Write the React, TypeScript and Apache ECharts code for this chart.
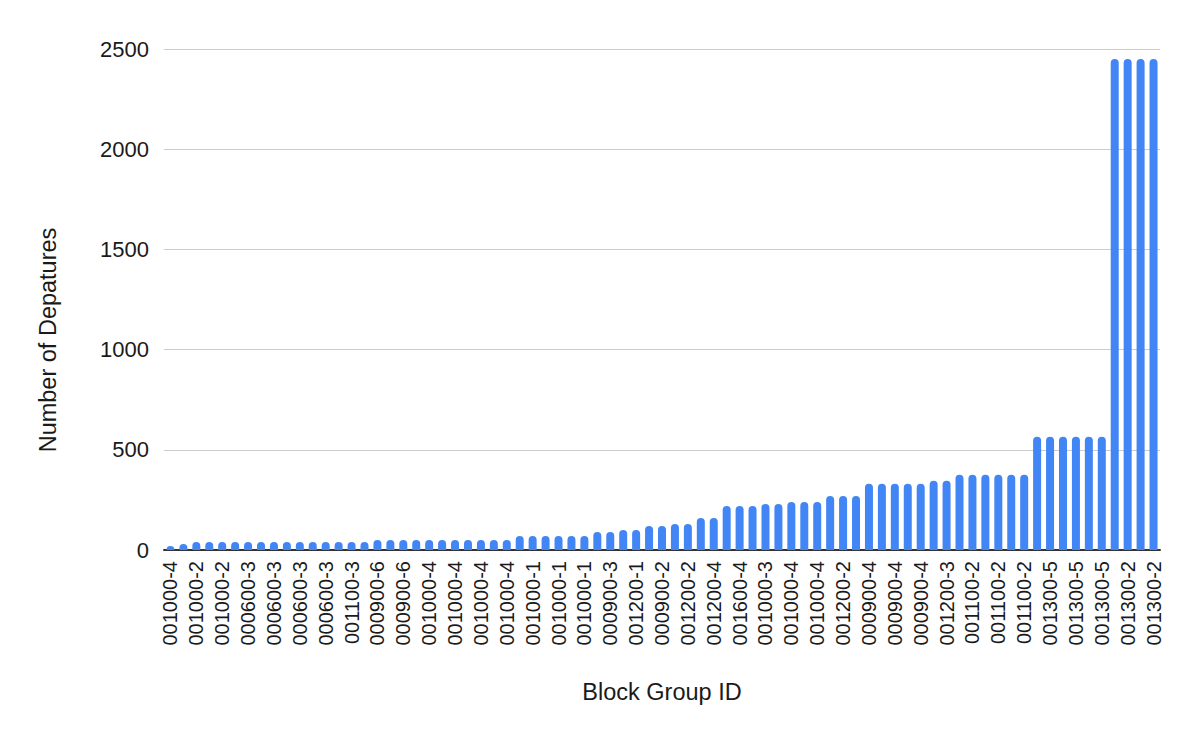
import React, { useEffect, useRef } from 'react';
import * as echarts from 'echarts';

// block group ids, one per bar (only every other one is drawn on the axis)
const blockGroups = [
  '001000-4', '001000-4', '001000-2', '001000-2', '001000-2', '001000-2',
  '000600-3', '000600-3', '000600-3', '000600-3', '000600-3', '000600-3',
  '000600-3', '000600-3', '001100-3', '001100-3', '000900-6', '000900-6',
  '000900-6', '000900-6', '001000-4', '001000-4', '001000-4', '001000-4',
  '001000-4', '001000-4', '001000-4', '001000-1', '001000-1', '001000-1',
  '001000-1', '001000-1', '001000-1', '000900-3', '000900-3', '001200-1',
  '001200-1', '000900-2', '000900-2', '001200-2', '001200-2', '001200-4',
  '001200-4', '001600-4', '001600-4', '001000-3', '001000-3', '001000-4',
  '001000-4', '001000-4', '001000-4', '001200-2', '001200-2', '000900-4',
  '000900-4', '000900-4', '000900-4', '000900-4', '000900-4', '001200-3',
  '001200-3', '001100-2', '001100-2', '001100-2', '001100-2', '001100-2',
  '001100-2', '001300-5', '001300-5', '001300-5', '001300-5', '001300-5',
  '001300-5', '001300-2', '001300-2', '001300-2', '001300-2',
];

// number of departures per bar
const departures = [
  20, 30, 40, 40, 40, 40, 40, 40, 40, 40, 40, 40,
  40, 40, 40, 40, 50, 50, 50, 50, 50, 50, 50, 50,
  50, 50, 50, 70, 70, 70, 70, 70, 70, 90, 90, 100,
  100, 120, 120, 130, 130, 160, 160, 220, 220, 220, 230, 230,
  240, 240, 240, 270, 270, 270, 330, 330, 330, 330, 330, 345,
  345, 375, 375, 375, 375, 375, 375, 565, 565, 565, 565, 565,
  565, 2450, 2450, 2450, 2450,
];

const FONT = "'Liberation Sans', Arial, Helvetica, sans-serif";
const TEXT = '#1a1a1a';

export default function App() {
  const chartRef = useRef<HTMLDivElement>(null);

  useEffect(() => {
    if (!chartRef.current) return;
    const chart = echarts.init(chartRef.current, undefined, { renderer: 'svg' });

    const option = {
      animation: false,
      backgroundColor: '#ffffff',
      grid: { left: 164, right: 40, top: 49, bottom: 192 },
      xAxis: {
        type: 'category',
        data: blockGroups,
        boundaryGap: true,
        axisLine: { show: true, lineStyle: { color: '#333333', width: 2 } },
        axisTick: { show: false },
        axisLabel: {
          interval: 1,
          rotate: 90,
          margin: 11,
          color: TEXT,
          fontSize: 20,
          fontFamily: FONT,
        },
        splitLine: { show: false },
      },
      yAxis: {
        type: 'value',
        min: 0,
        max: 2500,
        interval: 500,
        axisLine: { show: false },
        axisTick: { show: false },
        axisLabel: {
          margin: 15,
          color: TEXT,
          fontSize: 22,
          fontFamily: FONT,
          formatter: (v: number) => String(v),
        },
        splitLine: { lineStyle: { color: '#cccccc', width: 1 } },
      },
      graphic: [
        {
          type: 'text',
          x: 48,
          y: 340,
          rotation: Math.PI / 2,
          style: {
            text: 'Number of Depatures',
            fill: TEXT,
            font: `23.5px ${FONT}`,
            align: 'center',
            verticalAlign: 'middle',
          },
        },
        {
          type: 'text',
          x: 662,
          y: 692,
          style: {
            text: 'Block Group ID',
            fill: TEXT,
            font: `23.5px ${FONT}`,
            align: 'center',
            verticalAlign: 'middle',
          },
        },
      ],
      series: [
        {
          type: 'bar',
          data: departures,
          barWidth: 8,
          itemStyle: { color: '#4285f4', borderRadius: [4, 4, 0, 0] },
        },
      ],
    };
    chart.setOption(option);

    return () => {
      chart.dispose();
    };
  }, []);

  return (
    <div style={{ position: 'fixed', left: 0, top: 0, width: 1200, height: 742, background: '#fff' }}>
      <div ref={chartRef} style={{ width: '100%', height: '100%' }} />
    </div>
  );
}
